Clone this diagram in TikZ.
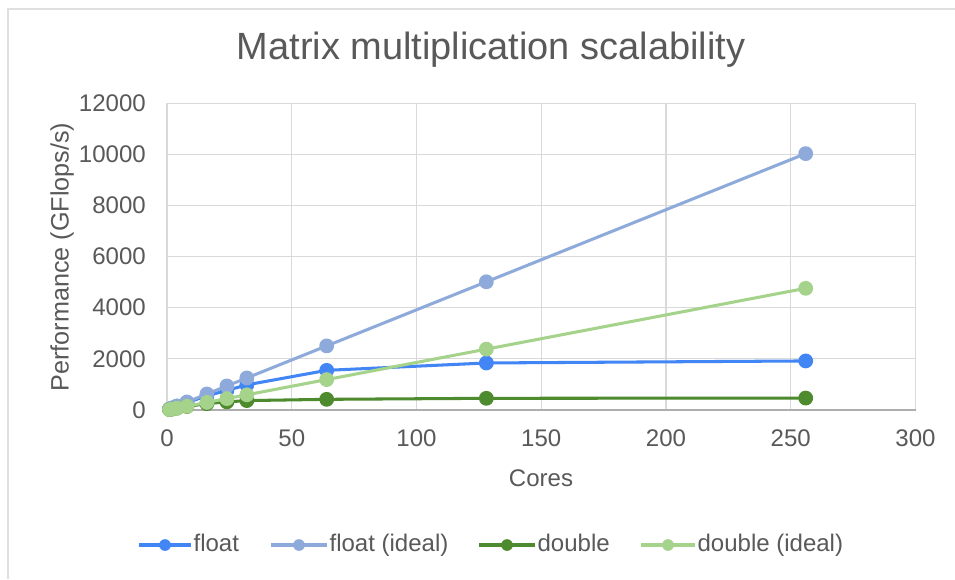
\documentclass[tikz,border=0pt]{standalone}
\usepackage{xcolor}
\usepackage{fontspec}
\setmainfont{Liberation Sans}
\usepackage{tikz}
\usetikzlibrary{positioning,calc}

\definecolor{floatc}{HTML}{4285F4}
\definecolor{floatidealc}{HTML}{8EAADB}
\definecolor{doublec}{HTML}{4E8A2E}
\definecolor{doubleidealc}{HTML}{A5D38B}
\definecolor{textc}{HTML}{595959}
\definecolor{gridc}{HTML}{D9D9D9}

\tikzset{
  series/.style={line width=2.6pt, line join=round, mark=*, mark size=5pt},
  ticklabel/.style={text=textc, inner sep=0pt, font=\fontsize{20.5pt}{24pt}\selectfont},
  legendtext/.style={text=textc, inner sep=0pt, anchor=west, text height=15pt, text depth=4pt, font=\fontsize{20.5pt}{24pt}\selectfont},
}

\begin{document}
\begin{tikzpicture}[x=0.03cm, y=-0.03cm]
\useasboundingbox (0,0) rectangle (955,579);
\fill[white] (0,0) rectangle (955,579);

% chart frame
\draw[gray!25, line width=1.7pt] (8,579) -- (8,9) -- (955,9);

% title
\node[text=textc, font=\fontsize{32.4pt}{38pt}\selectfont] (title) at (491,50) {Matrix multiplication scalability};

% grid and tick labels
\foreach \v [count=\i from 0] in {0,2000,4000,6000,8000,10000,12000} {
  \draw[gridc, line width=0.9pt] (167,410-\v/1000*25.58) -- (916,410-\v/1000*25.58);
  \node[ticklabel, anchor=east] (ytick\i) at (146,410-\v/1000*25.58) {\v};
}
\foreach \v [count=\i from 0] in {0,50,100,150,200,250,300} {
  \draw[gridc, line width=0.9pt] (167+2.495*\v,103) -- (167+2.495*\v,410);
  \node[ticklabel] (xtick\i) at (167+2.495*\v,438) {\v};
}
\draw[gridc!80!black, line width=0.9pt] (167,410) -- (916,410);

% axis titles
\node[ticklabel] (xtitle) at (541,478) {Cores};
\node[ticklabel, rotate=90, font=\fontsize{21.5pt}{24pt}\selectfont] (ytitle) at (62,257) {Performance (GFlops/s)};

% data
\begin{scope}[shift={(167,410)}, x=0.07485cm, y=0.000767cm]
\draw[series, floatc] plot coordinates {(1,39) (2,78) (4,150) (8,290) (16,560) (24,770) (32,990) (64,1560) (128,1850) (256,1930)};
\draw[series, floatidealc] plot coordinates {(1,39) (2,79) (4,158) (8,315) (16,630) (24,946) (32,1261) (64,2522) (128,5043) (256,10086)};
\draw[series, doublec] plot coordinates {(1,18) (2,36) (4,72) (8,140) (16,250) (24,320) (32,370) (64,420) (128,460) (256,470)};
\draw[series, doubleidealc] plot coordinates {(1,19) (2,37) (4,75) (8,150) (16,299) (24,449) (32,598) (64,1197) (128,2394) (256,4787)};
\end{scope}

% legend
\coordinate (lf1) at (139,545);  \coordinate (lf2) at (191,545);
\coordinate (li1) at (271,545);  \coordinate (li2) at (327,545);
\coordinate (ld1) at (479,545);  \coordinate (ld2) at (535,545);
\coordinate (lg1) at (641,545);  \coordinate (lg2) at (695,545);
\draw[floatc, line width=2.6pt] (lf1) -- (lf2);
\fill[floatc] ($(lf1)!0.5!(lf2)$) circle (5pt);
\node[legendtext, right=2pt of lf2] (lfloat) {float};
\draw[floatidealc, line width=2.6pt] (li1) -- (li2);
\fill[floatidealc] ($(li1)!0.5!(li2)$) circle (5pt);
\node[legendtext, right=2pt of li2] (lfloatideal) {float (ideal)};
\draw[doublec, line width=2.6pt] (ld1) -- (ld2);
\fill[doublec] ($(ld1)!0.5!(ld2)$) circle (5pt);
\node[legendtext, right=2pt of ld2] (ldouble) {double};
\draw[doubleidealc, line width=2.6pt] (lg1) -- (lg2);
\fill[doubleidealc] ($(lg1)!0.5!(lg2)$) circle (5pt);
\node[legendtext, right=2pt of lg2] (ldoubleideal) {double (ideal)};
\end{tikzpicture}
\end{document}
